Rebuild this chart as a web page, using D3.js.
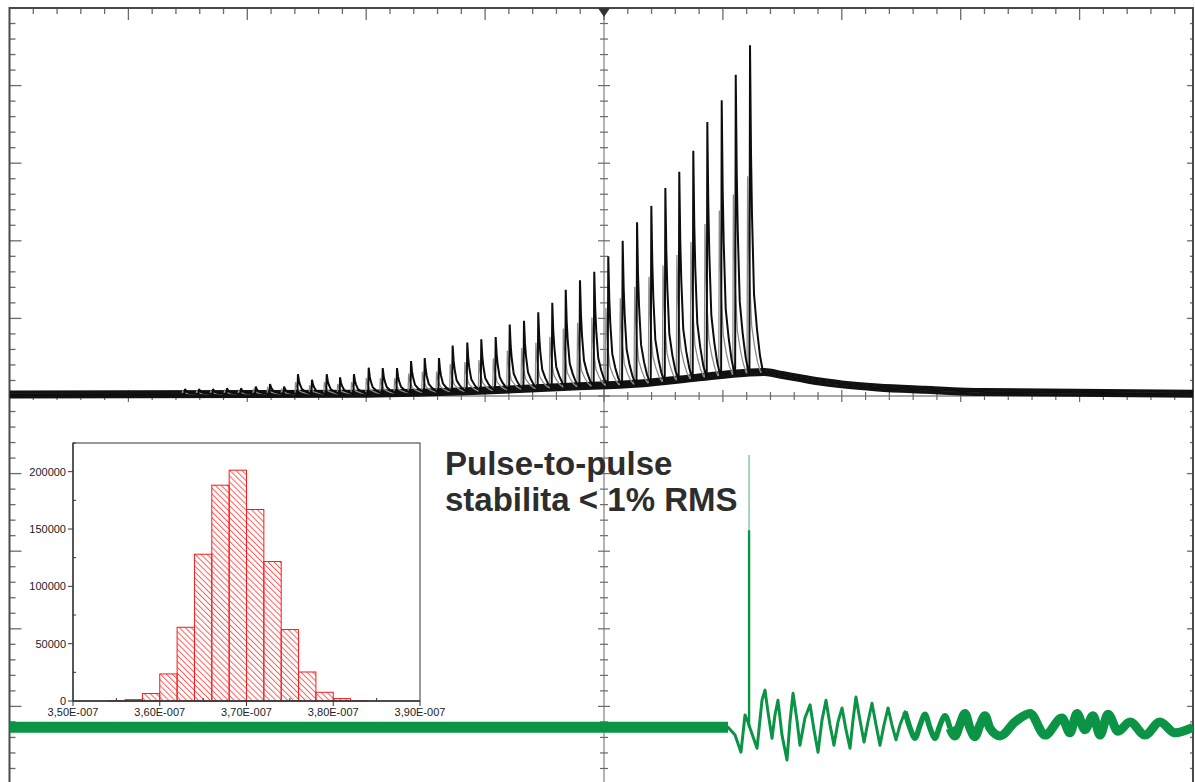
<!DOCTYPE html>
<html><head><meta charset="utf-8">
<script src="https://cdn.jsdelivr.net/npm/d3@7"></script>
<style>html,body{margin:0;padding:0;background:#fff;} svg{display:block;}</style>
</head><body>
<svg id="c" width="1195" height="782"></svg>
<script>
// ---------------- DATA (scope units: divisions) ----------------
// upper (black) trace: pulse train
const pulseTimes = [-3.524,-3.406,-3.288,-3.171,-3.053,-2.929,-2.809,-2.691,-2.574,-2.456,-2.332,-2.220,-2.103,-1.979,-1.861,-1.741,-1.623,-1.508,-1.388,-1.273,-1.150,-1.032,-0.911,-0.793,-0.673,-0.553,-0.435,-0.322,-0.202,-0.082,0.036,0.157,0.278,0.398,0.516,0.633,0.751,0.869,0.990,1.108,1.228];
const pulsePeaks = [0.09,0.09,0.09,0.10,0.10,0.12,0.155,0.12,0.28,0.21,0.28,0.24,0.28,0.365,0.36,0.36,0.45,0.49,0.49,0.65,0.69,0.73,0.76,0.92,0.97,1.08,1.20,1.37,1.49,1.60,1.80,2.00,2.24,2.45,2.68,2.89,3.16,3.53,3.81,4.14,4.52];
// slowly varying floor under the pulses and the tail after them
const floorTimes  = [-5, -2, -1, -0.3, 0.3, 0.8, 1.2, 1.35, 1.5, 1.65, 1.8, 2.0, 2.3, 2.7, 3.2, 5];
const floorLevels = [0.02, 0.03, 0.07, 0.12, 0.16, 0.24, 0.30, 0.31, 0.27, 0.23, 0.19, 0.15, 0.11, 0.08, 0.05, 0.03];
// single-pulse shape (offset in div, fraction of pulse height)
const shapeOffsets   = [-0.005, 0, 0.0084, 0.0168, 0.0336, 0.059, 0.084, 0.109];
const shapeFractions = [0, 1, 0.67, 0.48, 0.24, 0.13, 0.05, 0];

// lower (green) trace
const greenBaseline = -4.27;
const ringTimes  = [1.043,1.102,1.152,1.186,1.211,1.228,1.262,1.287,1.329,1.354,1.379,1.413,1.438,1.463,1.497,1.539,1.564,1.590,1.623,1.648,1.690,1.733,1.766,1.800,1.833,1.867,1.901,1.934,1.968,2.002,2.035,2.069,2.094,2.119,2.153,2.187,2.220,2.254,2.288,2.321,2.355,2.389,2.422,2.456,2.489,2.532,2.574,2.616,2.658,2.700,2.742,2.784,2.826,2.868,2.910,2.952,2.994,3.036,3.078,3.120,3.162,3.204,3.246,3.331,3.457,3.583,3.709,3.852,3.919,3.978,4.045,4.113,4.172,4.239,4.323,4.424,4.550,4.676,4.802,4.954];
const ringValues = [-4.27,-4.37,-4.59,-4.11,-4.20,-4.28,-4.43,-4.54,-3.92,-3.79,-4.07,-4.41,-4.11,-3.92,-4.37,-4.69,-4.20,-3.83,-4.18,-4.50,-4.15,-3.98,-4.30,-4.59,-4.18,-3.92,-4.24,-4.50,-4.20,-4.02,-4.30,-4.54,-4.18,-3.88,-4.18,-4.46,-4.20,-3.96,-4.24,-4.50,-4.24,-4.02,-4.24,-4.43,-4.24,-4.07,-4.28,-4.41,-4.24,-4.10,-4.28,-4.41,-4.24,-4.12,-4.28,-4.38,-4.23,-4.09,-4.28,-4.39,-4.24,-4.12,-4.28,-4.38,-4.20,-4.09,-4.37,-4.15,-4.34,-4.09,-4.30,-4.12,-4.37,-4.10,-4.32,-4.20,-4.37,-4.20,-4.34,-4.27];
const spikeTime = 1.220;
const spikeLevels = [-1.73, -0.76];

// inset histogram
const histEdges  = [3.54e-7,3.56e-7,3.58e-7,3.60e-7,3.62e-7,3.64e-7,3.66e-7,3.68e-7,3.70e-7,3.72e-7,3.74e-7,3.76e-7,3.78e-7,3.80e-7,3.82e-7,3.84e-7];
const histCounts = [300, 1200, 6500, 23600, 64300, 128000, 188200, 201300, 167000, 121600, 62300, 25300, 7600, 2100, 300];
const histXTicks = [3.5e-7, 3.6e-7, 3.7e-7, 3.8e-7, 3.9e-7];
const histXLabels = ["3,50E-007","3,60E-007","3,70E-007","3,80E-007","3,90E-007"];
const histYTicks = [0, 50000, 100000, 150000, 200000];
const histYLabels = ["0","50000","100000","150000","200000"];

const annotationLines = ["Pulse-to-pulse", "stabilita < 1% RMS"];

// ---------------- DRAWING ----------------
const svg = d3.select("#c");
const DIVX = 118.9, CX = 604;
const x = d3.scaleLinear().domain([-5, 5]).range([CX - 5*DIVX, CX + 5*DIVX]);
const y = d3.scaleLinear().domain([-5, 5]).range([784, 8]);
const LEFT = x(-5), RIGHT = 1193, TOP = 8, BOTTOM = 782;

const defs = svg.append("defs");
defs.append("clipPath").attr("id","plotclip")
  .append("rect").attr("x", LEFT).attr("y", TOP).attr("width", RIGHT-LEFT).attr("height", BOTTOM-TOP);

const grid = svg.append("g");
const gridCol = "#6a6a6a";
const minors = d3.range(-25, 26).map(i => i/5);
grid.append("line").attr("x1", x(0)).attr("x2", x(0)).attr("y1", TOP).attr("y2", BOTTOM)
  .attr("stroke", "#8a8a8a").attr("stroke-width", 1.3);
grid.append("line").attr("x1", LEFT).attr("x2", RIGHT).attr("y1", y(0)).attr("y2", y(0))
  .attr("stroke", "#8a8a8a").attr("stroke-width", 1.3);
minors.forEach(v => {
  const major = Math.abs(v - Math.round(v)) < 1e-6;
  const px = x(v), py = y(v);
  if (px > LEFT + 1 && px < RIGHT - 1) {
    grid.append("line").attr("x1", px).attr("x2", px).attr("y1", TOP).attr("y2", TOP + (major ? 12 : 6))
      .attr("stroke", gridCol).attr("stroke-width", 1.3);
    grid.append("line").attr("x1", px).attr("x2", px).attr("y1", y(0) - (major ? 6 : 4)).attr("y2", y(0) + (major ? 6 : 4))
      .attr("stroke", gridCol).attr("stroke-width", 1.2);
  }
  if (py > TOP + 1 && py < BOTTOM) {
    grid.append("line").attr("x1", LEFT).attr("x2", LEFT + (major ? 12 : 6)).attr("y1", py).attr("y2", py)
      .attr("stroke", gridCol).attr("stroke-width", 1.3);
    grid.append("line").attr("x1", RIGHT - (major ? 6 : 3)).attr("x2", RIGHT).attr("y1", py).attr("y2", py)
      .attr("stroke", gridCol).attr("stroke-width", 1.3);
    grid.append("line").attr("x1", x(0) - (major ? 6 : 4)).attr("x2", x(0) + (major ? 6 : 4)).attr("y1", py).attr("y2", py)
      .attr("stroke", gridCol).attr("stroke-width", 1.2);
  }
});
grid.append("path").attr("d", `M${LEFT},${BOTTOM+2}V${TOP}H${RIGHT}V${BOTTOM+2}`)
  .attr("fill","none").attr("stroke","#4a4a4a").attr("stroke-width", 2);
grid.append("path").attr("d", `M${x(0)-6},${TOP}L${x(0)+6},${TOP}L${x(0)},${TOP+9}Z`).attr("fill","#333");

const traces = svg.append("g").attr("clip-path","url(#plotclip)");
const line = d3.line().x(d => x(d[0])).y(d => y(d[1]));
const smooth = d3.line().x(d => x(d[0])).y(d => y(d[1])).curve(d3.curveMonotoneX);
const floorScale = d3.scaleLinear().domain(floorTimes).range(floorLevels).clamp(true);

function buildTrace(ampFactor, shift) {
  const pts = [];
  const first = pulseTimes[0], last = pulseTimes[pulseTimes.length-1];
  floorTimes.forEach((t,i) => { if (t < first - 0.01) pts.push([t, floorLevels[i]]); });
  pulseTimes.forEach((tk,k) => {
    const amp = (pulsePeaks[k] - floorScale(tk)) * ampFactor;
    shapeOffsets.forEach((o,j) => {
      const t = tk + o + shift;
      pts.push([t, floorScale(t) + amp * shapeFractions[j]]);
    });
  });
  floorTimes.forEach((t,i) => { if (t > last + 0.11) pts.push([t, floorLevels[i]]); });
  return pts.sort((a,b) => a[0]-b[0]);
}

const floorPts = floorTimes.map((t,i)=>[t, floorLevels[i]]);
traces.append("path").datum(floorPts).attr("d", smooth).attr("fill","none")
  .attr("stroke","#111").attr("stroke-width", 8);
traces.append("path").datum(buildTrace(0.6, -0.02))
  .attr("d", line).attr("fill","none").attr("stroke","#8c8c8c").attr("stroke-width", 1.3);
traces.append("path").datum(buildTrace(1, 0))
  .attr("d", line).attr("fill","none").attr("stroke","#0d0d0d").attr("stroke-width", 2).attr("stroke-linejoin","miter").attr("stroke-miterlimit", 2);

// green trace
const gCol = "#0b9446";
const ringPts = ringTimes.map((t,i) => [t, ringValues[i]]);
const flatG = [[-5, greenBaseline], [ringTimes[0], greenBaseline]];
traces.append("path").datum(flatG).attr("d", line).attr("fill","none")
  .attr("stroke", gCol).attr("stroke-width", 11);
traces.append("path").datum(ringPts.filter(d => d[0] >= 2.5 && d[0] < 2.95)).attr("d", smooth).attr("fill","none")
  .attr("stroke", gCol).attr("stroke-width", 5.5);
traces.append("path").datum(ringPts.filter(d => d[0] >= 2.9)).attr("d", smooth).attr("fill","none")
  .attr("stroke", gCol).attr("stroke-width", 9);
traces.append("path").datum([[-5, greenBaseline]].concat(ringPts))
  .attr("d", line).attr("fill","none").attr("stroke", gCol).attr("stroke-width", 3).attr("stroke-linejoin","round");
traces.append("line").attr("x1", x(spikeTime)).attr("x2", x(spikeTime))
  .attr("y1", y(spikeLevels[0])).attr("y2", y(spikeLevels[1])).attr("stroke", "#6cc493").attr("stroke-width", 1.3);
traces.append("line").attr("x1", x(spikeTime)).attr("x2", x(spikeTime))
  .attr("y1", y(greenBaseline)).attr("y2", y(spikeLevels[0])).attr("stroke", gCol).attr("stroke-width", 2.4);

// annotation
const ann = svg.append("text").attr("x", 445).attr("font-family","'Liberation Sans', Arial, sans-serif")
  .attr("font-weight","bold").attr("font-size", 33).attr("fill","#2d2d2d");
annotationLines.forEach((s,i) => ann.append("tspan").attr("x", 445).attr("y", 475 + i*36).text(s));

// ---------------- inset histogram ----------------
const hx = d3.scaleLinear().domain([3.5e-7, 3.9e-7]).range([73, 420]);
const hy = d3.scaleLinear().domain([0, 225000]).range([701, 443]);
const inset = svg.append("g");
const pat = defs.append("pattern").attr("id","hatch").attr("patternUnits","userSpaceOnUse")
  .attr("width", 4.2).attr("height", 4.2).attr("patternTransform","rotate(45)");
pat.append("line").attr("x1",0).attr("x2",4.2).attr("y1",2).attr("y2",2).attr("stroke","#ff4a4a").attr("stroke-width",0.9);

inset.append("rect").attr("x", hx(3.5e-7)).attr("y", hy(225000)).attr("width", hx(3.9e-7)-hx(3.5e-7))
  .attr("height", hy(0)-hy(225000)).attr("fill","#fff");
inset.selectAll("rect.bar").data(histCounts).enter().append("rect").attr("class","bar")
  .attr("x", (d,i) => hx(histEdges[i])).attr("width", (d,i) => hx(histEdges[i+1]) - hx(histEdges[i]))
  .attr("y", d => hy(d)).attr("height", d => hy(0) - hy(d))
  .attr("fill","url(#hatch)").attr("stroke","#f21d1d").attr("stroke-width", 1);
inset.append("rect").attr("x", hx(3.5e-7)).attr("y", hy(225000)).attr("width", hx(3.9e-7)-hx(3.5e-7))
  .attr("height", hy(0)-hy(225000)).attr("fill","none").attr("stroke","#555").attr("stroke-width",1.2);
inset.append("line").attr("x1", hx(3.5e-7)).attr("x2", hx(3.9e-7)).attr("y1", hy(0)).attr("y2", hy(0))
  .attr("stroke","#333").attr("stroke-width",1.3);
inset.append("line").attr("x1", hx(3.5e-7)).attr("x2", hx(3.5e-7)).attr("y1", hy(0)).attr("y2", hy(225000))
  .attr("stroke","#333").attr("stroke-width",1.3);
histXTicks.forEach((v,i) => {
  inset.append("line").attr("x1", hx(v)).attr("x2", hx(v)).attr("y1", hy(0)).attr("y2", hy(0)+5).attr("stroke","#333");
  if (i < histXTicks.length-1) {
    const m = v + 0.5e-8;
    inset.append("line").attr("x1", hx(m)).attr("x2", hx(m)).attr("y1", hy(0)).attr("y2", hy(0)-3).attr("stroke","#333");
  }
  inset.append("text").attr("x", hx(v)).attr("y", 716).attr("text-anchor","middle")
    .attr("font-family","'Liberation Sans', Arial, sans-serif").attr("font-size", 11).attr("fill","#222").text(histXLabels[i]);
});
histYTicks.forEach((v,i) => {
  inset.append("line").attr("x1", hx(3.5e-7)-5).attr("x2", hx(3.5e-7)).attr("y1", hy(v)).attr("y2", hy(v)).attr("stroke","#333");
  const m = v + 25000;
  inset.append("line").attr("x1", hx(3.5e-7)).attr("x2", hx(3.5e-7)+3).attr("y1", hy(m)).attr("y2", hy(m)).attr("stroke","#333");
  inset.append("text").attr("x", 66).attr("y", hy(v)+4).attr("text-anchor","end")
    .attr("font-family","'Liberation Sans', Arial, sans-serif").attr("font-size", 11).attr("fill","#222").text(histYLabels[i]);
});
</script>
</body></html>
